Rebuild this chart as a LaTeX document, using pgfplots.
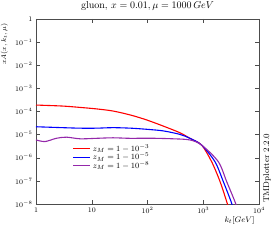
\documentclass[border=0pt]{standalone}
\usepackage{pgfplots}
\pgfplotsset{compat=1.18}
\definecolor{mypurple}{RGB}{148,40,170}
\begin{document}
\begin{tikzpicture}
\begin{axis}[
  scale only axis, width=223pt, height=185pt,
  xmode=log, ymode=log, log basis x=10, log basis y=10,
  xmin=1, xmax=1e4, ymin=1e-8, ymax=1,
  xtick={1,10,100,1000,10000},
  xticklabels={1,10,$10^2$,$10^3$,$10^4$},
  ytick={1e-8,1e-7,1e-6,1e-5,1e-4,1e-3,1e-2,1e-1,1},
  yticklabels={$10^{-8}$,$10^{-7}$,$10^{-6}$,$10^{-5}$,$10^{-4}$,$10^{-3}$,$10^{-2}$,$10^{-1}$,1},
  tick align=inside, major tick length=4pt, minor tick length=2pt,
  tick label style={font=\fontsize{7}{8}\selectfont},
  axis line style={black!70}, every tick/.style={black!70},
  title={gluon, $x = 0.01, \mu = 1000\,GeV$},
  title style={font=\fontsize{10}{11}\selectfont, at={(axis description cs:0.5,1)}, anchor=south, yshift=-1.5pt},
  xlabel={$k_t[GeV]$},
  xlabel style={font=\fontsize{8}{9}\selectfont, at={(axis description cs:1,0)}, anchor=north east, yshift=-9pt, xshift=-1pt},
  ylabel={$xA(x,k_t,\mu)$},
  ylabel style={font=\fontsize{7.5}{9}\selectfont, at={(axis description cs:0,1)}, anchor=south east, yshift=24.5pt, xshift=-1pt},
  legend style={draw=none, fill=none, at={(axis description cs:0.15,0.345)}, anchor=north west, font=\fontsize{8.5}{8.5}\selectfont, row sep=-3.5pt},
  legend cell align=left,
  clip=true,
]
\addplot[red, line width=1.1pt, smooth] coordinates {
(1,1.9e-4) (3,1.72e-4) (6.2,1.5e-4) (12,1.3e-4) (24,1.05e-4) (50,7.0e-5) (97,4.3e-5) (192,2.34e-5) (383,1.2e-5) (578,6.9e-6) (933,3.55e-6) (1413,6.76e-7) (2000,9.33e-8) (2690,1.07e-8) (3000,3.98e-9)};
\addlegendentry{$z_M = 1-10^{-3}$}
\addplot[blue, line width=1.1pt, smooth] coordinates {
(1,2.19e-5) (3,2.0e-5) (6.2,1.9e-5) (12,1.9e-5) (24,2.0e-5) (50,1.9e-5) (97,1.7e-5) (192,1.45e-5) (383,1.02e-5) (578,6.9e-6) (933,3.55e-6) (1622,6.76e-7) (2290,9.33e-8) (3236,1.07e-8) (3600,3.98e-9)};
\addlegendentry{$z_M = 1-10^{-5}$}
\addplot[mypurple, line width=1.1pt, smooth] coordinates {
(1,5.89e-6) (1.45,5.01e-6) (2.3,6.92e-6) (3.5,7.76e-6) (6.2,6.6e-6) (12,6.92e-6) (24,7.3e-6) (49,6.92e-6) (110,7.0e-6) (288,6.6e-6) (575,5.89e-6) (933,3.55e-6) (1862,6.76e-7) (2630,9.33e-8) (3800,1.07e-8) (4200,3.98e-9)};
\addlegendentry{$z_M = 1-10^{-8}$}
\end{axis}
\node[rotate=90, anchor=north west, font=\fontsize{8.4}{9}\selectfont, inner sep=0pt] at (current axis.south east) [xshift=1pt, yshift=-4pt] {TMDplotter 2.2.0};
\pgfresetboundingbox
\path[use as bounding box] (current axis.south west) ++(-36pt,-42pt) rectangle ([xshift=16pt,yshift=19pt]current axis.north east);
\end{tikzpicture}
\end{document}
